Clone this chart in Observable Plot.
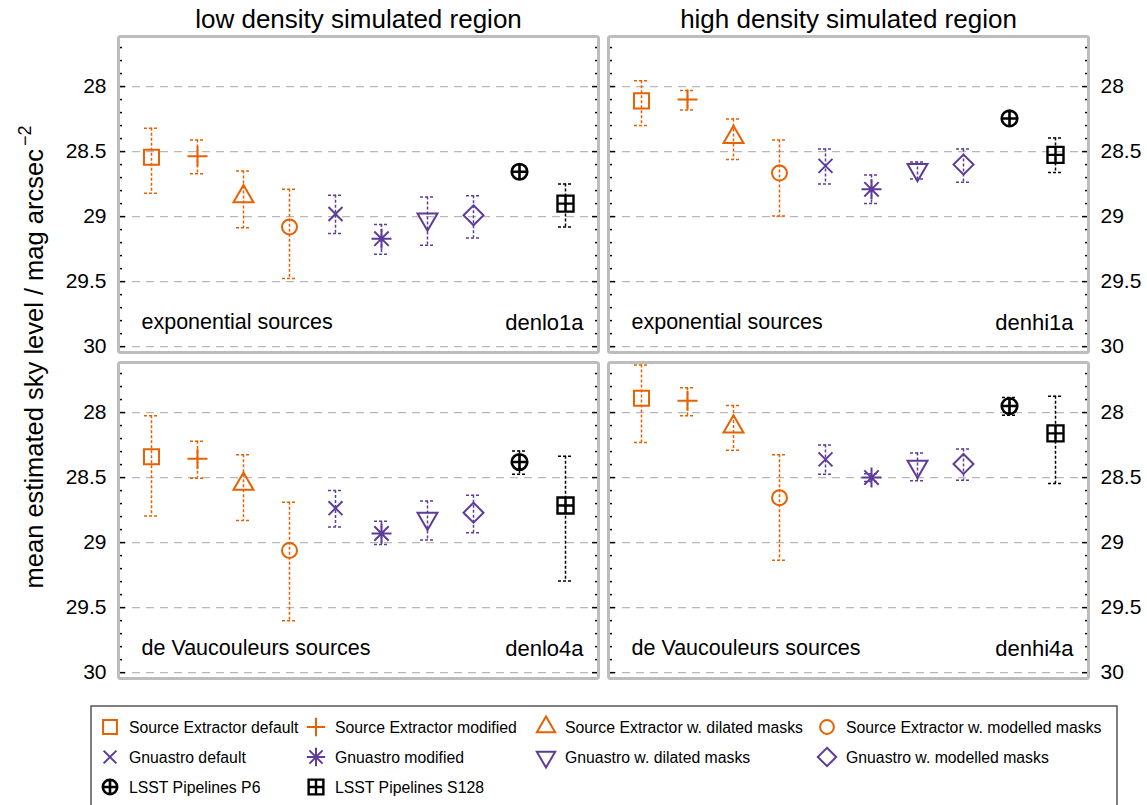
<!DOCTYPE html>
<html>
<head>
<meta charset="utf-8">
<script src="https://cdn.jsdelivr.net/npm/d3@7"></script>
<script src="https://cdn.jsdelivr.net/npm/@observablehq/plot@0.6"></script>
<style>
  html, body { margin: 0; padding: 0; background: #fff; }
  #chart { width: 1147px; font-family: "Liberation Sans", Arial, sans-serif; }
  #chart svg { display: block; }
</style>
</head>
<body>
<div id="chart"></div>
<script>
// Sky-estimation methods, in plotting order
const methods = [
  "Source Extractor default", "Source Extractor modified",
  "Source Extractor w. dilated masks", "Source Extractor w. modelled masks",
  "Gnuastro default", "Gnuastro modified",
  "Gnuastro w. dilated masks", "Gnuastro w. modelled masks",
  "LSST Pipelines P6", "LSST Pipelines S128"
];
const regions = ["low density simulated region", "high density simulated region"];
const profiles = ["exponential sources", "de Vaucouleurs sources"];
const fieldNames = ["denlo1a", "denhi1a", "denlo4a", "denhi4a"];
const fieldRegion = [0, 1, 0, 1];
const fieldProfile = [0, 0, 1, 1];
const majorTicks = [28, 28.5, 29, 29.5, 30];
const majorTickLabels = ["28", "28.5", "29", "29.5", "30"];

// mean estimated sky level (mag arcsec^-2) and the bright / faint ends of its spread
const denlo1aSky    = [28.544, 28.535, 28.846, 29.08, 28.98, 29.17, 29.02, 28.99, 28.655, 28.90];
const denlo1aBright = [28.32, 28.41, 28.65, 28.79, 28.835, 29.06, 28.85, 28.84, null, 28.75];
const denlo1aFaint  = [28.82, 28.67, 29.085, 29.475, 29.13, 29.29, 29.22, 29.165, null, 29.08];

const denhi1aSky    = [28.11, 28.10, 28.39, 28.665, 28.61, 28.79, 28.64, 28.60, 28.245, 28.525];
const denhi1aBright = [27.955, 28.03, 28.25, 28.41, 28.48, 28.68, 28.58, 28.48, null, 28.395];
const denhi1aFaint  = [28.30, 28.18, 28.56, 28.995, 28.75, 28.90, 28.71, 28.735, null, 28.66];

const denlo4aSky    = [28.34, 28.355, 28.55, 29.06, 28.735, 28.93, 28.815, 28.77, 28.38, 28.715];
const denlo4aBright = [28.025, 28.22, 28.325, 28.69, 28.60, 28.835, 28.68, 28.635, 28.295, 28.335];
const denlo4aFaint  = [28.795, 28.505, 28.83, 29.60, 28.88, 29.015, 28.98, 28.925, 28.475, 29.295];

const denhi4aSky    = [27.89, 27.91, 28.11, 28.655, 28.36, 28.50, 28.415, 28.395, 27.95, 28.16];
const denhi4aBright = [27.635, 27.81, 27.945, 28.325, 28.25, 28.47, 28.31, 28.28, 27.885, 27.875];
const denhi4aFaint  = [28.23, 28.025, 28.29, 29.135, 28.475, 28.53, 28.525, 28.52, 28.02, 28.545];

const skyByField = [denlo1aSky, denhi1aSky, denlo4aSky, denhi4aSky];
const brightByField = [denlo1aBright, denhi1aBright, denlo4aBright, denhi4aBright];
const faintByField = [denlo1aFaint, denhi1aFaint, denlo4aFaint, denhi4aFaint];

// styling
const orange = "#e66101", purple = "#5e3c99", black = "#000";
const methodColors = [orange, orange, orange, orange, purple, purple, purple, purple, black, black];

// custom marker shapes
const circledPlus = {
  draw(ctx, size) {
    const r = Math.sqrt(size / Math.PI);
    ctx.moveTo(r, 0); ctx.arc(0, 0, r, 0, 2 * Math.PI);
    ctx.moveTo(-r, 0); ctx.lineTo(r, 0);
    ctx.moveTo(0, -r); ctx.lineTo(0, r);
  }
};
const squaredPlus = {
  draw(ctx, size) {
    const r = Math.sqrt(size / Math.PI);
    ctx.moveTo(-r, -r); ctx.lineTo(r, -r); ctx.lineTo(r, r); ctx.lineTo(-r, r); ctx.closePath();
    ctx.moveTo(-r, 0); ctx.lineTo(r, 0);
    ctx.moveTo(0, -r); ctx.lineTo(0, r);
  }
};
const asterisk8 = {
  draw(ctx, size) {
    const r = Math.sqrt(size / Math.PI), d = r * 0.72;
    ctx.moveTo(-r, 0); ctx.lineTo(r, 0);
    ctx.moveTo(0, -r); ctx.lineTo(0, r);
    ctx.moveTo(-d, -d); ctx.lineTo(d, d);
    ctx.moveTo(-d, d); ctx.lineTo(d, -d);
  }
};
const markerSymbol = ["square", "plus", "triangle", "circle", "times", asterisk8, "triangle", "diamond2", circledPlus, squaredPlus];
const markerRadius = [8.5, 6.5, 7.4, 7.5, 6.4, 10, 7.4, 9, 7.8, 8];
const markerRotate = [0, 0, 0, 0, 0, 0, 180, 0, 0, 0];
const markerWidth = [2, 2, 2, 2, 2, 2, 2, 2, 2.6, 2.4];

// one row per field and method
const rows = fieldNames.flatMap((f, k) => methods.map((m, i) => ({
  field: f,
  region: regions[fieldRegion[k]],
  profile: profiles[fieldProfile[k]],
  method: m,
  sky: skyByField[k][i],
  bright: brightByField[k][i],
  faint: faintByField[k][i]
})));
const bars = rows.filter(d => d.bright != null);

const panels = fieldNames.map((f, k) => ({
  field: f, region: regions[fieldRegion[k]], profile: profiles[fieldProfile[k]]
}));

const minorTicks = d3.range(277, 301).filter(k => k % 5 !== 0).map(k => k / 10);
const facet = {fx: "region", fy: "profile"};
const tickLabel = d => majorTickLabels[majorTicks.indexOf(d)];

const plot = Plot.plot({
  width: 1147,
  height: 700,
  marginTop: 36,
  marginBottom: 22,
  marginLeft: 118,
  marginRight: 59,
  facet: {margin: 0},
  style: {fontFamily: "'Liberation Sans', Arial, sans-serif", fontSize: "20px", background: "#fff"},
  fx: {domain: regions, paddingInner: 10 / 490, paddingOuter: 0, label: null},
  fy: {domain: profiles, paddingInner: 10 / 326, paddingOuter: 0, axis: null, label: null},
  x: {type: "point", domain: methods, padding: 0.64, axis: null},
  y: {domain: [27.615, 30.045], reverse: true, axis: null},
  color: {domain: methods, range: methodColors},
  marks: [
    Plot.gridY(majorTicks, {stroke: "#b8b8b8", strokeOpacity: 1, strokeWidth: 1.3, strokeDasharray: "8,6"}),
    // inward tick marks on both sides of every panel
    Plot.axisY(majorTicks, {anchor: "left", text: null, tickSize: -7, strokeWidth: 1.5, facetAnchor: null, label: null}),
    Plot.axisY(majorTicks, {anchor: "right", text: null, tickSize: -7, strokeWidth: 1.5, facetAnchor: null, label: null}),
    Plot.axisY(minorTicks, {anchor: "left", text: null, tickSize: -4, strokeWidth: 1.5, facetAnchor: null, label: null}),
    Plot.axisY(minorTicks, {anchor: "right", text: null, tickSize: -4, strokeWidth: 1.5, facetAnchor: null, label: null}),
    // tick labels on the outer sides
    Plot.axisY(majorTicks, {anchor: "left", tickSize: 0, tickPadding: 12, fontSize: 21, tickFormat: tickLabel, label: null}),
    Plot.axisY(majorTicks, {anchor: "right", tickSize: 0, tickPadding: 12, fontSize: 21, tickFormat: tickLabel, label: null}),
    Plot.axisFx({anchor: "top", tickSize: 0, tickPadding: 9, fontSize: 26, label: null}),
    Plot.frame({stroke: "#bdbdbd", strokeWidth: 3, rx: 2}),
    // error bars with caps
    Plot.ruleX(bars, {...facet, x: "method", y1: "bright", y2: "faint", stroke: "method", strokeWidth: 1.5, strokeDasharray: "3,2"}),
    Plot.ruleY(bars, {...facet, x1: "method", x2: "method", y: "bright", stroke: "method", strokeWidth: 1.5, strokeDasharray: "3,2", insetLeft: -7, insetRight: -7}),
    Plot.ruleY(bars, {...facet, x1: "method", x2: "method", y: "faint", stroke: "method", strokeWidth: 1.5, strokeDasharray: "3,2", insetLeft: -7, insetRight: -7}),
    // markers, one mark per method
    ...methods.map((m, i) => Plot.dot(rows.filter(d => d.method === m), {
      ...facet, x: "method", y: "sky",
      symbol: markerSymbol[i], r: markerRadius[i], rotate: markerRotate[i],
      stroke: methodColors[i], fill: "none", strokeWidth: markerWidth[i]
    })),
    // panel annotations
    Plot.text(panels, {...facet, text: "profile", frameAnchor: "bottom-left", textAnchor: "start", lineAnchor: "middle", dx: 23, dy: -30, fontSize: 21.5, fill: "#000"}),
    Plot.text(panels, {...facet, text: "field", frameAnchor: "bottom-right", textAnchor: "end", lineAnchor: "middle", dx: -15, dy: -30, fontSize: 22, fill: "#000"})
  ]
});

// y-axis title with superscript unit
const yTitle = d3.select(plot).append("text")
  .attr("transform", "translate(43,357) rotate(-90)")
  .attr("text-anchor", "middle")
  .attr("font-size", 25.5)
  .attr("fill", "#000");
yTitle.append("tspan").text("mean estimated sky level / mag arcsec");
yTitle.append("tspan").attr("dy", "-0.65em").attr("dx", "3").attr("font-size", 18).text("\u22122");

document.getElementById("chart").appendChild(plot);

// legend box underneath
const legendCols = [110, 316, 546, 827];
const legendRows = [27, 57, 87];
const legend = d3.select("#chart").append("svg")
  .attr("width", 1147).attr("height", 105)
  .style("font-family", "'Liberation Sans', Arial, sans-serif");
legend.append("rect")
  .attr("x", 91).attr("y", 6).attr("width", 1026).attr("height", 130)
  .attr("fill", "none").attr("stroke", "#555").attr("stroke-width", 1.5);
const builtin = {square: d3.symbolSquare, plus: d3.symbolPlus, triangle: d3.symbolTriangle, circle: d3.symbolCircle, times: d3.symbolTimes, diamond2: d3.symbolDiamond2};
methods.forEach((m, i) => {
  const cx = legendCols[i % 4], cy = legendRows[Math.floor(i / 4)];
  const type = typeof markerSymbol[i] === "string" ? builtin[markerSymbol[i]] : markerSymbol[i];
  const r = markerRadius[i] * 0.92;
  legend.append("path")
    .attr("d", d3.symbol(type, Math.PI * r * r)())
    .attr("transform", `translate(${cx},${cy}) rotate(${markerRotate[i]})`)
    .attr("fill", "none").attr("stroke", methodColors[i]).attr("stroke-width", markerWidth[i]);
  legend.append("text")
    .attr("x", cx + 19).attr("y", cy).attr("dy", "0.35em")
    .attr("font-size", 15.8).attr("fill", "#000")
    .text(m);
});
</script>
</body>
</html>
